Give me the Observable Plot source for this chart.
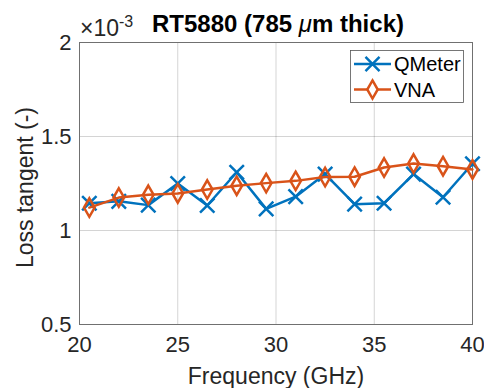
<!DOCTYPE html>
<html>
<head>
<meta charset="utf-8">
<script src="https://cdn.jsdelivr.net/npm/d3@7"></script>
<script src="https://cdn.jsdelivr.net/npm/@observablehq/plot@0.6"></script>
<style>
  html, body { margin: 0; padding: 0; background: #fff; }
  svg { display: block; }
</style>
</head>
<body>
<div id="chart"></div>
<script>
// Data (loss tangent in units of 1e-3)
const frequency = [20.5, 22, 23.5, 25, 26.5, 28, 29.5, 31, 32.5, 34, 35.5, 37, 38.5, 40];
const qmeter = [1.145, 1.155, 1.135, 1.25, 1.133, 1.31, 1.115, 1.18, 1.30, 1.14, 1.145, 1.30, 1.177, 1.355];
const vna = [1.122, 1.175, 1.19, 1.197, 1.218, 1.238, 1.252, 1.264, 1.284, 1.286, 1.335, 1.356, 1.342, 1.325];
const xTicks = [20, 25, 30, 35, 40];
const yTicks = [0.5, 1, 1.5, 2];
const seriesNames = ["QMeter", "VNA"];
const seriesColors = ["#0072BD", "#D95319"];

const qData = frequency.map((f, i) => ({f, v: qmeter[i]}));
const vData = frequency.map((f, i) => ({f, v: vna[i]}));

const font = "'Liberation Sans', Arial, Helvetica, sans-serif";
const textColor = "#262626";
const lw = 2.5;

const plot = Plot.plot({
  width: 484,
  height: 388,
  marginLeft: 79,
  marginRight: 12,
  marginTop: 42,
  marginBottom: 64,
  style: {fontFamily: font, fontSize: "22px", color: textColor, background: "#fff"},
  x: {domain: [20, 40], ticks: xTicks},
  y: {domain: [0.5, 2], ticks: yTicks},
  marks: [
    Plot.gridX(xTicks, {stroke: "#000", strokeOpacity: 0.17, strokeWidth: 1}),
    Plot.gridY(yTicks, {stroke: "#000", strokeOpacity: 0.17, strokeWidth: 1}),
    Plot.frame({stroke: "#707070", strokeWidth: 1}),
    Plot.axisX(xTicks, {tickSize: 0, tickPadding: 12, fontSize: 22, tickFormat: d => String(d), label: null, fill: textColor}),
    Plot.axisY(yTicks, {tickSize: 0, tickPadding: 8, fontSize: 22, tickFormat: d => String(d), label: null, fill: textColor}),
    Plot.line(qData, {x: "f", y: "v", stroke: seriesColors[0], strokeWidth: lw}),
    Plot.dot(qData, {x: "f", y: "v", symbol: "times", r: 6.6, stroke: seriesColors[0], strokeWidth: lw}),
    Plot.line(vData, {x: "f", y: "v", stroke: seriesColors[1], strokeWidth: lw}),
    Plot.dot(vData, {x: "f", y: "v", symbol: "diamond", r: 5.6, stroke: seriesColors[1], fill: "#fff", fillOpacity: 0, strokeWidth: lw}),
    Plot.text(["Frequency (GHz)"], {frameAnchor: "bottom", textAnchor: "middle", lineAnchor: "middle", dy: 52, fontSize: 23, fill: textColor}),
    Plot.text(["Loss tangent (-)"], {frameAnchor: "left", textAnchor: "middle", lineAnchor: "middle", dx: -54, dy: 4, rotate: -90, fontSize: 23, fill: textColor})
  ]
});

const svg = d3.select(plot);

// Title
const title = svg.append("text")
  .attr("x", 278).attr("y", 32)
  .attr("text-anchor", "middle")
  .attr("font-family", font).attr("font-size", 24).attr("font-weight", "bold")
  .attr("fill", "#000");
title.append("tspan").text("RT5880 (785 ");
title.append("tspan").attr("font-style", "italic").attr("font-weight", "normal").text("\u03bc");
title.append("tspan").text("m thick)");

// Exponent label
const expo = svg.append("text")
  .attr("x", 80).attr("y", 36)
  .attr("text-anchor", "start")
  .attr("font-family", font).attr("font-size", 23).attr("fill", textColor);
expo.append("tspan").text("\u00d710");
expo.append("tspan").attr("font-size", 16).attr("dy", -9).text("-3");

// Legend
const lg = svg.append("g");
lg.append("rect").attr("x", 350.5).attr("y", 50.5).attr("width", 113).attr("height", 52)
  .attr("fill", "#fff").attr("stroke", "#555").attr("stroke-width", 0.8);
const rows = [{y: 64, name: seriesNames[0], color: seriesColors[0], sym: d3.symbolTimes, size: 130},
              {y: 89.5, name: seriesNames[1], color: seriesColors[1], sym: d3.symbolDiamond, size: 95}];
rows.forEach(r => {
  lg.append("line").attr("x1", 354).attr("x2", 391).attr("y1", r.y).attr("y2", r.y)
    .attr("stroke", r.color).attr("stroke-width", lw);
  lg.append("path").attr("d", d3.symbol(r.sym, r.size)()).attr("transform", `translate(372.5,${r.y})`)
    .attr("stroke", r.color).attr("stroke-width", lw).attr("fill", "#fff");
  lg.append("text").attr("x", 394).attr("y", r.y).attr("dy", "0.35em")
    .attr("text-anchor", "start")
    .attr("font-family", font).attr("font-size", 20).attr("fill", "#000").text(r.name);
});

document.getElementById("chart").appendChild(plot);
</script>
</body>
</html>
